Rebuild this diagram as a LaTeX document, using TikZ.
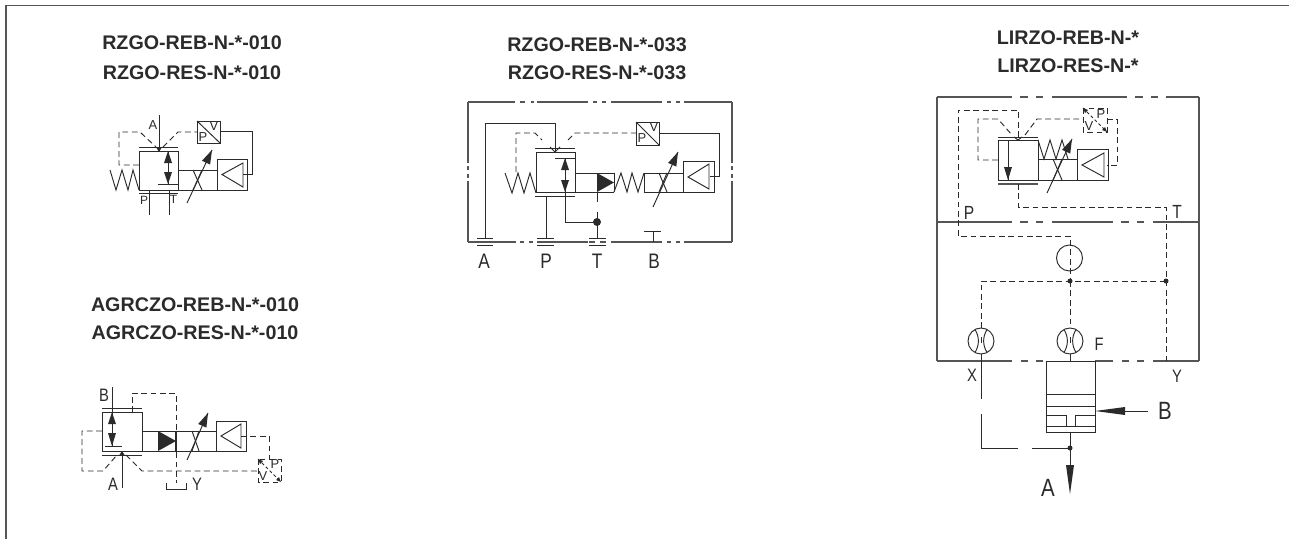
\documentclass[tikz,border=0pt]{standalone}
\usepackage{fontspec}
\setmainfont{Liberation Sans}
\newfontfamily\narrowlbl[FakeStretch=0.82]{Liberation Sans}
\usetikzlibrary{calc}
\definecolor{ink}{HTML}{2B2B2B}
\definecolor{soft}{HTML}{555555}
\tikzset{
  ln/.style={draw=ink,line width=0.95pt,line join=miter},
  fr/.style={draw=soft,line width=1.1pt},
  dsh/.style={draw=ink,line width=0.95pt,dash pattern=on 5.8pt off 3.6pt},
  head/.style={fill=ink,draw=none},
  title/.style={inner sep=0pt,font=\bfseries\fontsize{19.7}{20}\selectfont,text=ink},
  lbl/.style={inner sep=0pt,text=ink,font=\fontsize{#1}{#1}\selectfont},
  lbl/.default=18,
  big/.style={inner sep=0pt,text=ink,font=\narrowlbl\fontsize{#1}{#1}\selectfont},
  dot/.style={circle,fill=ink,inner sep=0pt,minimum size=#1},
  dot/.default=5pt
}
% double-headed inner arrow: x, top tip, up base, down base, bottom tip
\newcommand{\dblarrow}[5]{%
  \draw[ln] (#1,#2) -- (#1,#5);
  \fill[head] (#1,#2) -- (#1-4,#3) -- (#1+4,#3) -- cycle;
  \fill[head] (#1,#5) -- (#1-4,#4) -- (#1+4,#4) -- cycle;
}
% variable-adjust slanted arrow
\newcommand{\varrow}[4]{%
  \draw[ln] (#1,#2) -- (#3,#4);
  \fill[head] (#3,#4) -- ($(#3,#4)!14pt!(#1,#2)!4.5pt!90:(#3,#4)$) -- ($(#3,#4)!14pt!(#1,#2)!4.5pt!-90:(#3,#4)$) -- cycle;
}
% restrictor: centre x, y
\newcommand{\restr}[2]{%
  \draw[ln] (#1,#2) circle (13);
  \draw[ln] (#1-6,#2-11.5) .. controls (#1-1.5,#2-4) and (#1-1.5,#2+4) .. (#1-6,#2+11.5);
  \draw[ln] (#1+6,#2-11.5) .. controls (#1+1.5,#2-4) and (#1+1.5,#2+4) .. (#1+6,#2+11.5);
  \draw[ln] (#1,#2-4) -- (#1,#2+2);
}
\begin{document}
\begin{tikzpicture}[x=1pt,y=-1pt]
\useasboundingbox (0,0) rectangle (1289,539);
\fill[white] (0,0) rectangle (1289,539);
% outer frame
\draw[fr] (1289,5.5) -- (6,5.5) -- (6,539);

% ---------- titles
\node[title] (t1a) at (192,43) {RZGO-REB-N-*-010};
\node[title] (t1b) at (192,73) {RZGO-RES-N-*-010};
\node[title] (t2a) at (195,305) {AGRCZO-REB-N-*-010};
\node[title] (t2b) at (195,333) {AGRCZO-RES-N-*-010};
\node[title] (t3a) at (597,45) {RZGO-REB-N-*-033};
\node[title] (t3b) at (597,73) {RZGO-RES-N-*-033};
\node[title] (t4a) at (1068,38) {LIRZO-REB-N-*};
\node[title] (t4b) at (1068,66) {LIRZO-RES-N-*};

% ---------- diagram 1
\draw[ln] (159,115) -- (159,151);
\fill[head] (159,152) -- (156,147) -- (162,147) -- cycle;
\draw[ln] (139,151) rectangle (178,190);
\draw[ln] (139,147) -- (178,147);
\draw[ln] (139,193.5) -- (178,193.5);
\dblarrow{168}{151}{163}{172}{184}
\draw[ln] (158,184) -- (178,184);
\draw[ln] (110,170) -- (116,190) -- (122,170) -- (128,190) -- (133,170) -- (139,190);
\draw[dsh] (139,165) -- (119,165) -- (119,132) -- (140,132) -- (156,147);
\draw[dsh] (163,147) -- (178,132) -- (197,132);
\draw[ln] (197,121) rectangle (220,143);
\draw[ln] (197,121) -- (220,143);
\node[lbl=13] (d1v) at (214,126) {V};
\node[lbl=13] (d1pp) at (203,137) {P};
\draw[ln] (220,131) -- (252,131) -- (252,174.5) -- (243,174.5);
\draw[ln] (217,159) rectangle (247,190);
\draw[ln] (222,174.5) -- (243,163) -- (243,187) -- cycle;
\draw[ln] (178,170) -- (217,170);
\draw[ln] (178,190) -- (217,190);
\draw[ln] (193,170) -- (202,190);
\draw[ln] (202,170) -- (193,190);
\varrow{187}{203}{212}{150}
\draw[ln] (149,190) -- (149,215);
\draw[ln] (169,190) -- (169,215);
\node[lbl=12] (d1p) at (144,200) {P};
\node[lbl=12] (d1t) at (173.5,199.5) {T};
\node[lbl=13] (d1a) at (153,125) {A};

% ---------- diagram 2
\draw[ln] (112,387) -- (112,412);
\draw[ln] (102,412) rectangle (142,451);
\draw[ln] (102,408) -- (142,408);
\draw[ln] (102,455) -- (142,455);
\draw[ln] (122,488) -- (122,452);
\fill[head] (122,451) -- (119,455.5) -- (125,455.5) -- cycle;
\dblarrow{112}{412}{424}{433}{446}
\draw[ln] (105,446) -- (122,446);
\draw[dsh] (132,412) -- (132,393) -- (176,393) -- (176,483);
\draw[ln] (166,483) -- (166,489) -- (186,489) -- (186,483);
\draw[dsh] (102,431) -- (82,431) -- (82,471) -- (103,471) -- (117,455);
\draw[dsh] (126,455) -- (142,471) -- (258,471);
\draw[ln] (142,431) -- (216,431);
\draw[ln] (142,451) -- (216,451);
\fill[head] (158,431) -- (158,451) -- (176,441) -- cycle;
\draw[draw=ink,line width=1.4pt] (176,431) -- (176,451);
\draw[ln] (192,431) -- (199,451);
\draw[ln] (199,431) -- (192,451);
\varrow{187}{460}{208}{413}
\draw[ln] (216,421) rectangle (246,451);
\draw[ln] (221,436) -- (241,424) -- (241,448) -- cycle;
\draw[dsh] (241,436) -- (269,436) -- (269,459);
\draw[dsh] (258,459) rectangle (281,482);
\draw[dsh,dash pattern=on 3pt off 2.5pt] (258,459) -- (281,482);
\fill[head] (258,459) -- (263,461) -- (260,464) -- cycle;
\fill[head] (281,482) -- (276,480) -- (279,477) -- cycle;
\node[lbl=13] (d2p) at (275,464) {P};
\node[lbl=13] (d2v) at (263,476) {V};
\node[big=18] (d2b) at (104,395) {B};
\node[big=18] (d2a) at (113,484) {A};
\node[big=18] (d2y) at (197,484) {Y};

% ---------- diagram 3
\draw[fr] (468,102) -- (468,163) (468,166) -- (468,170) (468,174) -- (468,178) (468,181) -- (468,242)
          (732,102) -- (732,163) (732,166) -- (732,170) (732,174) -- (732,178) (732,181) -- (732,242);
\draw[fr] (468,102) -- (515,102) (520,102) -- (525,102) (531,102) -- (534,102) (537,102) -- (588,102)
          (593,102) -- (597,102) (602,102) -- (606,102) (611,102) -- (662,102)
          (667,102) -- (671,102) (676,102) -- (680,102) (684,102) -- (732,102);
\draw[fr] (468,242) -- (516,242) (520,242) -- (524,242) (529,242) -- (533,242) (537,242) -- (588,242)
          (589,242) -- (595,242) (600,242) -- (606,242) (611,242) -- (662,242)
          (667,242) -- (671,242) (676,242) -- (680,242) (684,242) -- (732,242);
% ports
\draw[ln] (485,238) -- (485,123) -- (555,123) -- (555,152);
\draw[ln] (477,238) -- (493,238) (477,245) -- (493,245);
\draw[ln] (537,238) -- (554,238) (537,245) -- (554,245);
\draw[ln] (589,238) -- (606,238) (589,245) -- (606,245);
\draw[ln] (546,196) -- (546,238);
\draw[ln] (644,231) -- (661,231);
\draw[ln] (653,231) -- (653,242);
\draw[ln] (536,152) rectangle (575,192);
\draw[ln] (535,148) -- (575,148);
\draw[ln] (535,196) -- (575,196);
\draw[ln] (550,147) -- (555,152) -- (560,147);
\dblarrow{565}{158}{170}{180}{192}
\draw[ln] (555,158) -- (575,158);
\draw[ln] (505,173) -- (512,193) -- (518,173) -- (524,193) -- (530,173) -- (536,193);
\draw[dsh] (516,172) -- (516,133) -- (535,133) -- (542,140);
\draw[dsh] (568,140) -- (575,133) -- (636,133);
\draw[ln] (636,122) rectangle (659,145);
\draw[ln] (636,122) -- (659,145);
\node[lbl=13] (d3v) at (654,127) {V};
\node[lbl=13] (d3pp) at (642,138) {P};
\draw[ln] (659,133) -- (719,133) -- (719,176) -- (710,176);
\draw[ln] (683,161) rectangle (714,192);
\draw[ln] (688,177) -- (709,164) -- (709,189) -- cycle;
\draw[ln] (575,173) -- (614,173);
\draw[ln] (575,192) -- (614,192);
\fill[head] (597,173) -- (597,192) -- (614,182.5) -- cycle;
\draw[ln] (614,173) -- (614,192);
\draw[ln] (597,192) -- (597,202);
\draw[ln] (597,212) -- (597,238);
\draw[ln] (565,192) -- (565,222) -- (597,222);
\node[dot=8pt] (d3dot) at (597,222) {};
\draw[ln] (614,192) -- (621,173) -- (627,192) -- (632,173) -- (638,192) -- (644,173);
\draw[ln] (644,173) -- (683,173);
\draw[ln] (644,192) -- (683,192);
\draw[ln] (644,173) -- (644,192);
\draw[ln] (659,173) -- (667,192);
\draw[ln] (667,173) -- (659,192);
\varrow{653}{207}{678}{152}
\node[big=21] (d3a) at (484,261) {A};
\node[big=21] (d3p) at (546,261) {P};
\node[big=21] (d3t) at (597,261) {T};
\node[big=21] (d3b) at (654,261) {B};

% ---------- diagram 4
\draw[fr] (937,97) -- (937,361) (1199,97) -- (1199,361);
\draw[fr] (937,97) -- (1012,97) (1020,97) -- (1028,97) (1036,97) -- (1043,97) (1052,97) -- (1127,97)
          (1135,97) -- (1143,97) (1151,97) -- (1158,97) (1166,97) -- (1199,97);
\draw[fr] (937,222) -- (1012,222) (1020,222) -- (1028,222) (1036,222) -- (1043,222) (1052,222) -- (1113,222)
          (1121,222) -- (1129,222) (1137,222) -- (1144,222) (1153,222) -- (1199,222);
\draw[fr] (937,361) -- (1012,361) (1021,361) -- (1028,361) (1036,361) -- (1043,361) (1095,361) -- (1113,361)
          (1122,361) -- (1129,361) (1137,361) -- (1144,361) (1153,361) -- (1199,361);
\draw[ln] (998,140) rectangle (1038,180);
\draw[ln] (998,137) -- (1038,137);
\draw[soft,line width=1.1pt] (998,184) -- (1038,184);
\draw[ln] (1008,140) -- (1008,180);
\fill[head] (1008,180) -- (1004,167) -- (1012,167) -- cycle;
\draw[ln] (1014,137) -- (1018,140) -- (1022,137);
\draw[dsh] (1018,137) -- (1018,110) -- (958,110) -- (958,236) -- (1070,236) -- (1070,281);
\draw[dsh] (998,160) -- (978,160) -- (978,119) -- (998,119) -- (1012,135);
\draw[dsh] (1025,135) -- (1037,119) -- (1083,119);
\draw[dsh] (1083,108) rectangle (1107,132);
\draw[dsh,dash pattern=on 3pt off 2.5pt] (1083,108) -- (1107,132);
\fill[head] (1083,108) -- (1088,110) -- (1085,113) -- cycle;
\fill[head] (1107,132) -- (1102,130) -- (1105,127) -- cycle;
\node[lbl=13] (d4vp) at (1101,114) {P};
\node[lbl=13] (d4vv) at (1089,126) {V};
\draw[dsh] (1107,119) -- (1117,119) -- (1117,165) -- (1107,165);
\draw[ln] (1077,149) rectangle (1108,180);
\draw[ln] (1082,165) -- (1104,153) -- (1104,177) -- cycle;
\draw[ln] (1038,159) -- (1077,159);
\draw[ln] (1038,180) -- (1077,180);
\draw[ln] (1053,159) -- (1062,180);
\draw[ln] (1062,159) -- (1053,180);
\draw[ln] (1038,140) -- (1044,159) -- (1050,140) -- (1056,159) -- (1062,140) -- (1068,159);
\varrow{1047}{193}{1072}{139}
\draw[dsh] (1018,184) -- (1018,207) -- (1166,207) -- (1166,361);
\draw[ln] (1069.5,258) circle (13);
\draw[dsh] (981,328) -- (981,281) -- (1166,281);
\draw[dsh] (1070,281) -- (1070,328);
\node[dot=5pt] (d4d1) at (1070,281) {};
\node[dot=5pt] (d4d2) at (1166,281) {};
\restr{981}{341}
\restr{1070}{341}
\draw[ln] (981,354) -- (981,399);
\draw[ln] (1070,354) -- (1070,361);
\draw[ln] (981,414) -- (981,448) -- (1018,448);
\draw[ln] (1032,448) -- (1070,448);
\node[big=19] (d4p) at (969,213) {P};
\node[big=19] (d4t) at (1177,212) {T};
\node[big=18] (d4f) at (1099,344) {F};
\node[big=18] (d4x) at (972,375) {X};
\node[big=18] (d4y) at (1177,376) {Y};
% main stage
\draw[ln] (1046,361) rectangle (1095,432);
\draw[ln] (1046,394) -- (1095,394);
\draw[ln] (1046,406) -- (1095,406);
\draw[ln] (1046,426) -- (1095,426);
\draw[ln] (1046,415) -- (1066,415) -- (1066,426);
\draw[ln] (1095,415) -- (1075,415) -- (1075,426);
\draw[ln] (1070,432) -- (1070,465);
\node[dot=5pt] (d4d3) at (1070,448) {};
\fill[head] (1070,494) -- (1066,465) -- (1074,465) -- cycle;
\draw[ln] (1148,411) -- (1125,411);
\fill[head] (1095,411) -- (1125,407) -- (1125,415) -- cycle;
\node[big=25] (d4b) at (1165,411) {B};
\node[big=25] (d4a) at (1048,488) {A};
\end{tikzpicture}
\end{document}
